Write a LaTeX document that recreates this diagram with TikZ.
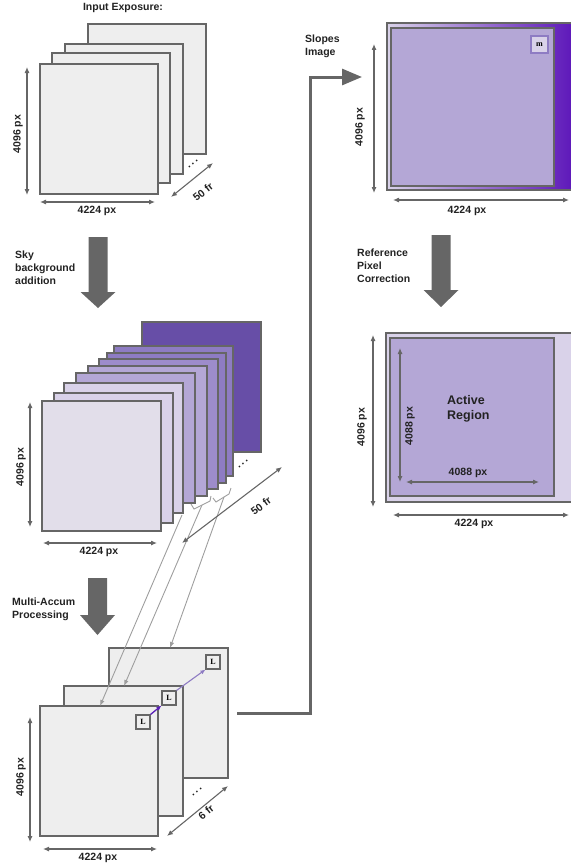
\documentclass[tikz,border=0pt]{standalone}
\usepackage{fontspec}
\setmainfont{Liberation Sans}
\newfontfamily\serifL{Liberation Serif}
\usetikzlibrary{arrows.meta,calc}
\definecolor{fgray}{HTML}{EEEEEE}
\definecolor{bgray}{HTML}{666666}
\definecolor{lgray}{HTML}{9E9E9E}
\definecolor{pA}{HTML}{E2DEEA}
\definecolor{pB}{HTML}{D9D2E9}
\definecolor{pC}{HTML}{B4A7D6}
\definecolor{pD}{HTML}{9D8CCB}
\definecolor{pE}{HTML}{8E7CC3}
\definecolor{pF}{HTML}{674EA7}
\definecolor{pDeep}{HTML}{5A12B8}
\definecolor{pArrow}{HTML}{5A1FB8}
\definecolor{txt}{HTML}{222222}
\newcommand\imgfr[6]{%
  \pgfmathsetmacro\frW{#4-#2}\pgfmathsetmacro\frH{#5-#3}%
  \node[imgframe, fill=#6, minimum width=\frW pt, minimum height=\frH pt] (#1) at ({(#2+#4)/2},{(#3+#5)/2}) {};}
\newcommand\blockarrow[4]{%
  \fill[bgray] ({#1-9.5},#2) -- ({#1+9.5},#2) -- ({#1+9.5},#3) -- ({#1+17.5},#3) -- (#1,#4) -- ({#1-17.5},#3) -- ({#1-9.5},#3) -- cycle;}
\newcommand\dimarr[3]{\coordinate (#1a) at (#2); \coordinate (#1b) at (#3); \draw[dimline] (#1a) -- (#1b);}
\newcommand\threedots{.\hspace{1.6pt}.\hspace{1.6pt}.}
\tikzset{
  imgframe/.style={draw=bgray, line width=1.2pt, inner sep=0pt, outer sep=0pt},
  dimline/.style={draw=bgray, line width=1.1pt, {Latex[length=6pt,width=5pt]}-{Latex[length=6pt,width=5pt]}},
  lbl/.style={font=\bfseries\fontsize{10.5}{13}\selectfont, text=txt, inner sep=0pt, align=left},
  dimlbl/.style={font=\bfseries\fontsize{10.5}{13}\selectfont, text=txt, inner sep=0pt},
  dotlbl/.style={font=\bfseries\fontsize{10.5}{10.5}\selectfont, text=txt, inner sep=0pt, text height=2pt, text depth=0pt},
  refline/.style={draw=lgray, line width=0.9pt, -{Latex[length=6pt,width=4.5pt]}},
  bracket/.style={draw=lgray, line width=0.9pt},
  smallbox/.style={draw=bgray, line width=1.1pt, fill=fgray, minimum width=14pt, minimum height=14pt, inner sep=0pt, font=\serifL\bfseries\fontsize{8}{8}\selectfont},
  mainconn/.style={draw=bgray, line width=3pt, -{Triangle[length=20pt,width=16pt]}},
}
\begin{document}
\begin{tikzpicture}[x=1pt,y=-1pt]
\useasboundingbox (0,0) rectangle (570,867);

% ---------- top stack ----------
\node[lbl, anchor=center] (title) at (123,8) {Input Exposure:};
\imgfr{t4}{88}{24}{206}{154}{fgray}
\imgfr{t3}{65}{44}{183}{174}{fgray}
\imgfr{t2}{52}{53}{170}{183}{fgray}
\imgfr{t1}{40}{64}{158}{194}{fgray}
\dimarr{d1v}{27,67}{27,195}
\dimarr{d1h}{40,202}{155,202}
\dimarr{d1d}{171,197}{213,163}
\node[dimlbl, rotate=90] (l1v) at (18,134) {4096 px};
\node[dimlbl] (l1h) at (97,211) {4224 px};
\node[dimlbl, rotate=39] (l1d) at (203,192) {50 fr};
\node[dotlbl, rotate=39] (dots1) at (193,164) {\threedots};

% ---------- arrow 1 ----------
\blockarrow{98}{237}{292}{308}
\node[lbl, anchor=north west] (sky) at (15,251) {Sky\\background\\addition};

% ---------- middle stack ----------
\imgfr{m9}{142}{322}{261}{452}{pF}
\imgfr{m8}{114}{346}{233}{476}{pE}
\imgfr{m7}{107}{353}{226}{483}{pE}
\imgfr{m6}{99}{359}{218}{489}{pD}
\imgfr{m5}{88}{366}{207}{496}{pC}
\imgfr{m4}{76}{373}{195}{503}{pC}
\imgfr{m3}{64}{383}{183}{513}{pB}
\imgfr{m2}{54}{393}{173}{523}{pB}
\imgfr{m1}{42}{401}{161}{531}{pA}
\dimarr{d2v}{30,402}{30,527}
\dimarr{d2h}{43,543}{157,543}
\node[dimlbl, rotate=90] (l2v) at (21,467) {4096 px};
\node[dimlbl] (l2h) at (99,552) {4224 px};
\node[dimlbl, rotate=37] (l2d) at (261,506) {50 fr};
\node[dotlbl, rotate=37] (dots2) at (243,464) {\threedots};

% brackets
\coordinate (brA) at (182,515);
\coordinate (brB) at (202,505);
\coordinate (brC) at (224,497);
\draw[bracket] (191,504) -- (194,509) -- (brB) -- (210,501) -- (211,496);
\draw[bracket] (213,498) -- (216,502) -- (brC) -- (229,494) -- (231,488);

% ---------- arrow 2 ----------
\blockarrow{97.5}{578}{615}{635}
\node[lbl, anchor=north west] (multi) at (12,598) {Multi-Accum\\Processing};

% ---------- bottom stack ----------
\imgfr{b3}{109}{648}{228}{778}{fgray}
\imgfr{b2}{64}{686}{183}{816}{fgray}
\imgfr{b1}{40}{706}{158}{836}{fgray}
\node[smallbox] (L1) at (143,722) {L};
\node[smallbox] (L2) at (169,698) {L};
\node[smallbox] (L3) at (213,662) {L};
\draw[draw=pArrow, line width=1.3pt, -{Latex[length=5pt,width=4.5pt]}] (L1.north east) -- (L2.south west);
\draw[draw=pE, line width=1.1pt, -{Latex[length=5pt,width=4.5pt]}] (L2.north east) -- (L3.south west);
\dimarr{d3v}{30,717}{30,842}
\dimarr{d3h}{43,849}{157,849}
\dimarr{d3d}{167,836}{228,786}
\node[dimlbl, rotate=90] (l3v) at (21,777) {4096 px};
\node[dimlbl] (l3h) at (98,858) {4224 px};
\node[dimlbl, rotate=39] (l3d) at (206,812) {6 fr};
\node[dotlbl, rotate=39] (dots3) at (197,792) {\threedots};

% reference lines
\draw[refline] (brA) -- ([xshift=60pt]b1.north west);
\draw[refline] (brB) -- ([xshift=60pt]b2.north west);
\draw[refline] (brC) -- ([xshift=61pt]b3.north west);
\dimarr{d2d}{182,543}{282,467}

% ---------- slopes image ----------
\shade[left color=pB, middle color=pC, right color=pDeep, draw=bgray, line width=1.2pt] (387,23) rectangle (578,190);
\node[inner sep=0pt, minimum width=191pt, minimum height=167pt] (slopeout) at (482.5,106.5) {};
\imgfr{slopein}{391}{28}{554}{186}{pC}
\node[draw=pE, line width=1.2pt, fill=pB, minimum width=17pt, minimum height=17pt, inner sep=0pt, font=\serifL\bfseries\fontsize{8}{8}\selectfont] (mbox) at (539.5,44.5) {m};
\dimarr{d4v}{374,44}{374,193}
\dimarr{d4h}{393,200}{569,200}
\node[dimlbl, rotate=90] (l4v) at (360,127) {4096 px};
\node[dimlbl] (l4h) at (467,211) {4224 px};
\node[lbl, anchor=north west] (slopes) at (305,35) {Slopes\\Image};

% main connector
\coordinate (elbow) at (310,77);
\coordinate (slopetip) at (362,77);
\draw[mainconn] ([xshift=9pt]b3.east) -| (elbow) -- (slopetip);

% ---------- arrow 3 ----------
\blockarrow{441}{235}{290}{307}
\node[lbl, anchor=north west] (refpix) at (357,249) {Reference\\Pixel\\Correction};

% ---------- active region ----------
\imgfr{actout}{386}{333}{578}{502}{pB}
\imgfr{actin}{390}{338}{554}{496}{pC}
\dimarr{d5v}{373,335}{373,507}
\dimarr{d5h}{393,515}{569,515}
\dimarr{d5iv}{400,348}{400,482}
\dimarr{d5ih}{406,482}{539,482}
\node[dimlbl, rotate=90] (l5v) at (362,427) {4096 px};
\node[dimlbl] (l5h) at (474,524) {4224 px};
\node[dimlbl, rotate=90] (l5iv) at (410,426) {4088 px};
\node[dimlbl] (l5ih) at (468,473) {4088 px};
\node[lbl, anchor=north west, font=\bfseries\fontsize{12.5}{15}\selectfont] (active) at (447,395) {Active\\Region};
\end{tikzpicture}
\end{document}
